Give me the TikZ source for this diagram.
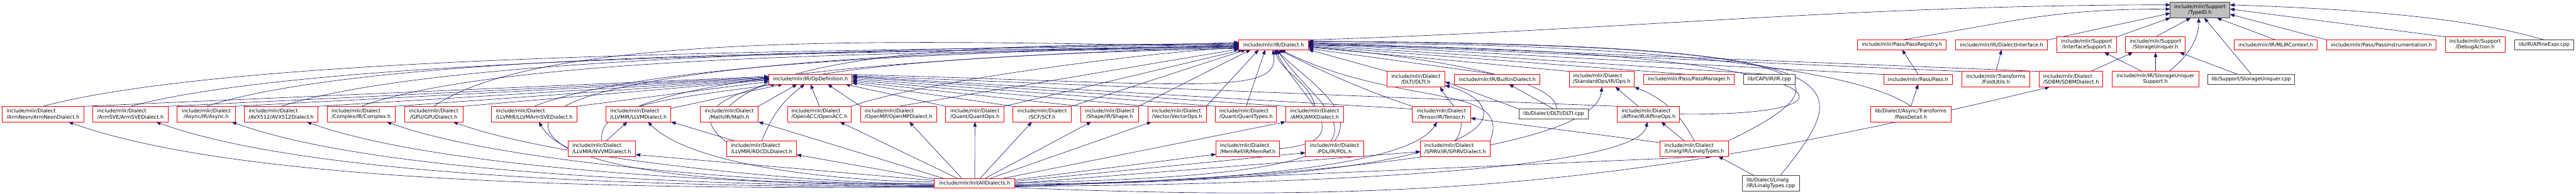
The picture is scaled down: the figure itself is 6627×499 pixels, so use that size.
\documentclass[tikz,border=0pt]{standalone}
\usepackage{fontspec}
\newfontfamily\dejavu{DejaVu Sans}
\usetikzlibrary{arrows.meta,backgrounds}
\definecolor{edgenavy}{RGB}{25,25,112}
\definecolor{hdrred}  {RGB}{255,0,0}
\definecolor{srcgray} {RGB}{64,64,64}
\definecolor{rootgray}{RGB}{191,191,191}
\tikzset{
  hdr/.style     ={rectangle,draw=hdrred,line width=0.13pt,fill=white,
                   inner xsep=3pt,inner ysep=2pt,align=center,
                   font=\dejavu\fontsize{13pt}{15pt}\selectfont},
  hdrl/.style    ={hdr,align=left},
  srcbox/.style  ={hdr,draw=srcgray},
  srcboxl/.style ={srcbox,align=left},
  rootbox/.style ={hdr,draw=srcgray,fill=rootgray},
  wh/.style 2 args={minimum width=#1pt,minimum height=#2pt},
  inc/.style     ={-{Triangle[length=1.2pt,width=0.9pt]},draw=edgenavy,line width=0.1pt},
}

\begin{document}
\begin{tikzpicture}[x=1pt,y=1pt,scale=0.1,transform shape]
  \useasboundingbox (0,0) rectangle (6627,499);
  % root
  \node[rootbox,wh={153}{40}] (typeid) at (5659.5,473) {include/mlir/Support\\/TypeID.h};
  % headers that include TypeID.h
  \node[hdr,wh={179}{25}]    (dialect)  at (3276.5,383.5) {include/mlir/IR/Dialect.h};
  \node[hdr,wh={228}{25}]    (passreg)  at (4893,383.5)   {include/mlir/Pass/PassRegistry.h};
  \node[hdr,wh={236}{25}]    (dlgintf)  at (5149,383.5)   {include/mlir/IR/DialectInterface.h};
  \node[hdr,wh={154}{40}]    (intfsup)  at (5368,384)     {include/mlir/Support\\/InterfaceSupport.h};
  \node[hdr,wh={154}{40}]    (stuniq)   at (5545,384)     {include/mlir/Support\\/StorageUniquer.h};
  \node[hdr,wh={213}{25}]    (mlirctx)  at (5854.5,383.5) {include/mlir/IR/MLIRContext.h};
  \node[hdr,wh={281}{25}]    (passinst) at (6126.5,383.5) {include/mlir/Pass/PassInstrumentation.h};
  \node[hdr,wh={153}{40}]    (dbgact)   at (6367.5,384)   {include/mlir/Support\\/DebugAction.h};
  \node[srcbox,wh={152}{25}] (affexpr)  at (6545,383.5)   {lib/IR/AffineExpr.cpp};
  % third row
  \node[hdr,wh={214}{25}]    (opdef)     at (2085,294.5)   {include/mlir/IR/OpDefinition.h};
  \node[hdr,wh={149}{40}]    (dlti)      at (3642.5,295)   {include/mlir/Dialect\\/DLTI/DLTI.h};
  \node[hdr,wh={220}{25}]    (builtin)   at (3852,294.5)   {include/mlir/IR/BuiltinDialect.h};
  \node[hdrl,wh={167}{40}]   (stdops)    at (4120.5,295)   {include/mlir/Dialect\\/StandardOps/IR/Ops.h};
  \node[hdr,wh={232}{25}]    (passmgr)   at (4345,294.5)   {include/mlir/Pass/PassManager.h};
  \node[srcbox,wh={133}{25}] (capiir)    at (4551.5,294.5) {lib/CAPI/IR/IR.cpp};
  \node[hdr,wh={177}{25}]    (pass)      at (4934.5,294.5) {include/mlir/Pass/Pass.h};
  \node[hdr,wh={175}{40}]    (foldut)    at (5134.5,295)   {include/mlir/Transforms\\/FoldUtils.h};
  \node[hdrl,wh={164}{40}]   (sdbm)      at (5328,295)     {include/mlir/Dialect\\/SDBM/SDBMDialect.h};
  \node[hdr,wh={222}{40}]    (stusup)    at (5545,295)     {include/mlir/IR/StorageUniquer\\Support.h};
  \node[srcbox,wh={223}{25}] (stuniqcpp) at (5791.5,294.5) {lib/Support/StorageUniquer.cpp};
  % dialect row
  \node[hdrl,wh={211}{40}] (armneon)    at (110.5,205)  {include/mlir/Dialect\\/ArmNeon/ArmNeonDialect.h};
  \node[hdrl,wh={193}{40}] (armsve)     at (335.5,205)  {include/mlir/Dialect\\/ArmSVE/ArmSVEDialect.h};
  \node[hdr,wh={149}{40}]  (async)      at (530.5,205)  {include/mlir/Dialect\\/Async/IR/Async.h};
  \node[hdrl,wh={189}{40}] (avx)        at (723.5,205)  {include/mlir/Dialect\\/AVX512/AVX512Dialect.h};
  \node[hdrl,wh={174}{40}] (complex)    at (929,205)    {include/mlir/Dialect\\/Complex/IR/Complex.h};
  \node[hdr,wh={150}{40}]  (gpu)        at (1116,205)   {include/mlir/Dialect\\/GPU/GPUDialect.h};
  \node[hdrl,wh={219}{40}] (llvmsve)    at (1374.5,205) {include/mlir/Dialect\\/LLVMIR/LLVMArmSVEDialect.h};
  \node[hdrl,wh={167}{40}] (llvm)       at (1642.5,205) {include/mlir/Dialect\\/LLVMIR/LLVMDialect.h};
  \node[hdr,wh={150}{40}]  (math)       at (1876,205)   {include/mlir/Dialect\\/Math/IR/Math.h};
  \node[hdrl,wh={164}{40}] (openacc)    at (2108,205)   {include/mlir/Dialect\\/OpenACC/OpenACC.h};
  \node[hdrl,wh={195}{40}] (openmp)     at (2311.5,205) {include/mlir/Dialect\\/OpenMP/OpenMPDialect.h};
  \node[hdr,wh={150}{40}]  (quantops)   at (2508,205)   {include/mlir/Dialect\\/Quant/QuantOps.h};
  \node[hdr,wh={150}{40}]  (scf)        at (2681,205)   {include/mlir/Dialect\\/SCF/SCF.h};
  \node[hdr,wh={149}{40}]  (shape)      at (2854.5,205) {include/mlir/Dialect\\/Shape/IR/Shape.h};
  \node[hdrl,wh={150}{40}] (vector)     at (3028,205)   {include/mlir/Dialect\\/Vector/VectorOps.h};
  \node[hdrl,wh={157}{40}] (quanttypes) at (3205.5,205) {include/mlir/Dialect\\/Quant/QuantTypes.h};
  \node[hdr,wh={150}{40}]  (amx)        at (3382,205)   {include/mlir/Dialect\\/AMX/AMXDialect.h};
  \node[hdr,wh={150}{40}]  (tensor)     at (3708,205)   {include/mlir/Dialect\\/Tensor/IR/Tensor.h};
  \node[srcbox,wh={178}{26}] (dlticpp)  at (3997,205)   {lib/Dialect/DLTI/DLTI.cpp};
  \node[hdrl,wh={160}{40}] (affine)     at (4241,205)   {include/mlir/Dialect\\/Affine/IR/AffineOps.h};
  \node[hdr,wh={207}{40}]  (passdetail) at (4915.5,205) {lib/Dialect/Async/Transforms\\/PassDetail.h};
  % fifth row
  \node[hdrl,wh={174}{40}] (nvvm)    at (1548,116)   {include/mlir/Dialect\\/LLVMIR/NVVMDialect.h};
  \node[hdrl,wh={179}{40}] (rocdl)   at (1959.5,116) {include/mlir/Dialect\\/LLVMIR/ROCDLDialect.h};
  \node[hdrl,wh={164}{40}] (memref)  at (3210,116)   {include/mlir/Dialect\\/MemRef/IR/MemRef.h};
  \node[hdr,wh={150}{40}]  (pdl)     at (3433,116)   {include/mlir/Dialect\\/PDL/IR/PDL.h};
  \node[hdrl,wh={179}{40}] (spirv)   at (3743.5,116) {include/mlir/Dialect\\/SPIRV/IR/SPIRVDialect.h};
  \node[hdrl,wh={175}{40}] (linalgh) at (4358.5,116) {include/mlir/Dialect\\/Linalg/IR/LinalgTypes.h};
  % bottom row
  \node[hdr,wh={207}{25}]     (initall)   at (2507.5,26.5) {include/mlir/InitAllDialects.h};
  \node[srcboxl,wh={147}{41}] (linalgcpp) at (4555.5,26.5) {lib/Dialect/Linalg\\/IR/LinalgTypes.cpp};

  \begin{scope}[on background layer]
  \fill[white] (0,0) rectangle (6627,499);
  % into TypeID.h
  \draw[inc] (dialect.north east) .. controls +(800,25) and +(-800,0) .. (typeid.170);
  \draw[inc] (passreg.north) .. controls +(300,50) and +(-300,0) .. (typeid.178);
  \draw[inc] (dlgintf.north east) -- (typeid.186);
  \draw[inc] (intfsup.north east) -- (typeid.south west);
  \draw[inc] (stuniq.north) -- (typeid.-140);
  \draw[inc] (stusup.30) .. controls +(55,45) and +(0,-50) .. (typeid.-100);
  \draw[inc] (stuniqcpp.north) -- (typeid.-62);
  \draw[inc] (mlirctx.north) -- (typeid.-25);
  \draw[inc] (passinst.north west) -- (typeid.-8);
  \draw[inc] (dbgact.north west) -- (typeid.2);
  \draw[inc] (affexpr.north) .. controls +(-200,60) and +(300,-10) .. (typeid.10);
  % support, pass and builtin headers
  \draw[inc] (stusup.north) -- (stuniq.south);
  \draw[inc] (stusup.150) -- (intfsup.-24);
  \draw[inc] (stuniqcpp.160) -- (stuniq.-18);
  \draw[inc] (sdbm.22) -- (stuniq.-161);
  \draw[inc] (foldut.north) -- (dlgintf.south);
  \draw[inc] (pass.north) -- (passreg.south);
  \draw[inc] (passdetail.north) -- (pass.south);
  \draw[inc] (dlticpp.north) -- (builtin.-23);
  \draw[inc] (dlticpp.north west) -- (dlti.-5);
  % dialects -> Dialect.h
  \draw[inc] (armneon.north) .. controls +(582,156) and +(-603,-21) .. (dialect.178);
  \draw[inc] (armsve.north) .. controls +(540,145) and +(-559,-20) .. (dialect.180);
  \draw[inc] (async.north) .. controls +(495,161) and +(-520,-18) .. (dialect.182);
  \draw[inc] (avx.north) .. controls +(459,149) and +(-483,-17) .. (dialect.176);
  \draw[inc] (complex.north) .. controls +(416,152) and +(-443,-15) .. (dialect.184);
  \draw[inc] (gpu.north) .. controls +(333,233) and +(-406,-14) .. (dialect.179);
  \draw[inc] (llvmsve.north) .. controls +(330,133) and +(-356,-12) .. (dialect.181);
  \draw[inc] (llvm.north) .. controls +(282,114) and +(-304,-11) .. (dialect.183);
  \draw[inc] (math.north) .. controls +(182,182) and +(-258,-9) .. (dialect.177);
  \draw[inc] (openacc.north east) .. controls +(185,67) and +(-197,-7) .. (dialect.185);
  \draw[inc] (openmp.north) -- (dialect.187);
  \draw[inc] (quantops.north east) -- (dialect.189);
  \draw[inc] (scf.north east) -- (dialect.-170);
  \draw[inc] (nvvm.west) .. controls +(-250,150) and +(-1300,-10) .. (dialect.183);
  \draw[inc] (rocdl.170) .. controls +(-200,150) and +(-1000,-20) .. (dialect.186);
  \draw[inc] (opdef.north east) .. controls +(900,-25) and +(20,-120) .. (dialect.-100);
  \draw[inc] (shape.north east) -- (dialect.-168);
  \draw[inc] (vector.north east) -- (dialect.-162);
  \draw[inc] (quanttypes.north) -- (dialect.-150);
  \draw[inc] (amx.north) .. controls +(-10,60) and +(20,-60) .. (dialect.-80);
  \draw[inc] (memref.east) .. controls +(220,20) and +(60,-120) .. (dialect.-72);
  \draw[inc] (pdl.north) .. controls +(60,80) and +(80,-80) .. (dialect.-64);
  \draw[inc] (initall.1) .. controls +(1150,20) and +(120,-180) .. (dialect.-56);
  \draw[inc] (tensor.north west) .. controls +(-120,40) and +(120,-60) .. (dialect.-45);
  \draw[inc] (spirv.north east) .. controls +(60,150) and +(300,-150) .. (dialect.-35);
  \draw[inc] (spirv.north) .. controls +(40,60) and +(30,-50) .. (dlti.-18);
  \draw[inc] (dlti.north west) -- (dialect.-8);
  \draw[inc] (builtin.north) -- (dialect.-6);
  \draw[inc] (stdops.north west) -- (dialect.-4);
  \draw[inc] (passmgr.north) -- (dialect.-2);
  \draw[inc] (capiir.north) -- (dialect.0);
  \draw[inc] (pass.north west) -- (dialect.2);
  \draw[inc] (foldut.north west) -- (dialect.3);
  \draw[inc] (sdbm.north west) -- (dialect.4);
  \draw[inc] (passdetail.north) .. controls +(-150,110) and +(700,10) .. (dialect.1);
  \draw[inc] (dlticpp.60) .. controls +(0,102) and +(102,-9) .. (dialect.-3);
  \draw[inc] (affine.east) .. controls +(580,-7) and +(1334,-2) .. (dialect.-1);
  \draw[inc] (linalgh.north east) .. controls +(330,160) and +(1380,-5) .. (dialect.5);
  \draw[inc] (linalgcpp.40) .. controls +(200,250) and +(1450,-8) .. (dialect.6);
  % dialects -> OpDefinition.h
  \draw[inc] (armneon.north east) -- (opdef.176);
  \draw[inc] (armsve.north east) -- (opdef.177);
  \draw[inc] (async.north east) -- (opdef.178);
  \draw[inc] (avx.north east) -- (opdef.179);
  \draw[inc] (complex.north east) -- (opdef.180);
  \draw[inc] (gpu.north east) -- (opdef.181);
  \draw[inc] (llvmsve.north east) -- (opdef.183);
  \draw[inc] (llvm.10) -- (opdef.-170);
  \draw[inc] (math.north east) -- (opdef.-160);
  \draw[inc] (openacc.north) -- (opdef.south);
  \draw[inc] (nvvm.north) .. controls +(-10,90) and +(-300,-40) .. (opdef.-172);
  \draw[inc] (rocdl.north) .. controls +(27,67) and +(-57,-44) .. (opdef.-140);
  \draw[inc] (openmp.north west) -- (opdef.-16);
  \draw[inc] (quantops.north west) -- (opdef.-8);
  \draw[inc] (scf.north west) -- (opdef.-5);
  \draw[inc] (shape.north west) -- (opdef.-3);
  \draw[inc] (vector.north west) -- (opdef.-1);
  \draw[inc] (quanttypes.north west) -- (opdef.1);
  \draw[inc] (amx.north west) -- (opdef.3);
  \draw[inc] (tensor.170) -- (opdef.4);
  \draw[inc] (affine.north west) -- (opdef.5);
  % LLVM, Linalg, Affine
  \draw[inc] (nvvm.60) -- (llvm.-145);
  \draw[inc] (rocdl.164) -- (llvm.south east);
  \draw[inc] (linalgh.170) -- (tensor.-8);
  \draw[inc] (linalgh.142) -- (affine.-32);
  \draw[inc] (linalgh.north) to[bend right=20] (stdops.south east);
  \draw[inc] (linalgcpp.155) -- (linalgh.-18);
  \draw[inc] (affine.143) -- (stdops.-30);
  % InitAllDialects.h
  \draw[inc] (initall.186) .. controls +(-524,0) and +(492,-179) .. (armneon.-17);
  \draw[inc] (initall.185) .. controls +(-472,0) and +(444,-161) .. (armsve.-17);
  \draw[inc] (initall.184) .. controls +(-426,0) and +(400,-146) .. (async.-17);
  \draw[inc] (initall.183) .. controls +(-381,0) and +(358,-130) .. (avx.-17);
  \draw[inc] (initall.182) .. controls +(-333,0) and +(313,-114) .. (complex.-17);
  \draw[inc] (initall.181) .. controls +(-293,0) and +(275,-100) .. (gpu.-22);
  \draw[inc] (initall.180) .. controls +(-201,0) and +(100,-174) .. (llvmsve.-60);
  \draw[inc] (initall.178) .. controls +(-177,0) and +(125,-125) .. (llvm.-40);
  \draw[inc] (initall.176) -- (nvvm.-10);
  \draw[inc] (initall.174) -- (rocdl.-10);
  \draw[inc] (initall.171) -- (math.south east);
  \draw[inc] (initall.164) -- (openacc.-21);
  \draw[inc] (initall.159) -- (openmp.-36);
  \draw[inc] (initall.north) -- (quantops.south);
  \draw[inc] (initall.43) -- (scf.-143);
  \draw[inc] (initall.26) -- (shape.-157);
  \draw[inc] (initall.18) -- (vector.-163);
  \draw[inc] (initall.10) -- (amx.south west);
  \draw[inc] (initall.5) -- (memref.-170);
  \draw[inc] (initall.3) -- (pdl.-172);
  \draw[inc] (initall.0) -- (spirv.-175);
  \draw[inc] (initall.-1) .. controls +(172,0) and +(-86,-149) .. (tensor.-120);
  \draw[inc] (initall.-2) .. controls +(1350,10) and +(180,-50) .. (dlti.-12);
  \draw[inc] (initall.-3) .. controls +(210,0) and +(-18,-209) .. (stdops.south);
  \draw[inc] (initall.-4) .. controls +(160,0) and +(-28,-158) .. (affine.-100);
  \draw[inc] (initall.-5) -- (linalgh.-25);
  \draw[inc] (initall.-6) .. controls +(1046,-44) and +(-1018,-246) .. (sdbm.-160);
  \end{scope}
\end{tikzpicture}
\end{document}
